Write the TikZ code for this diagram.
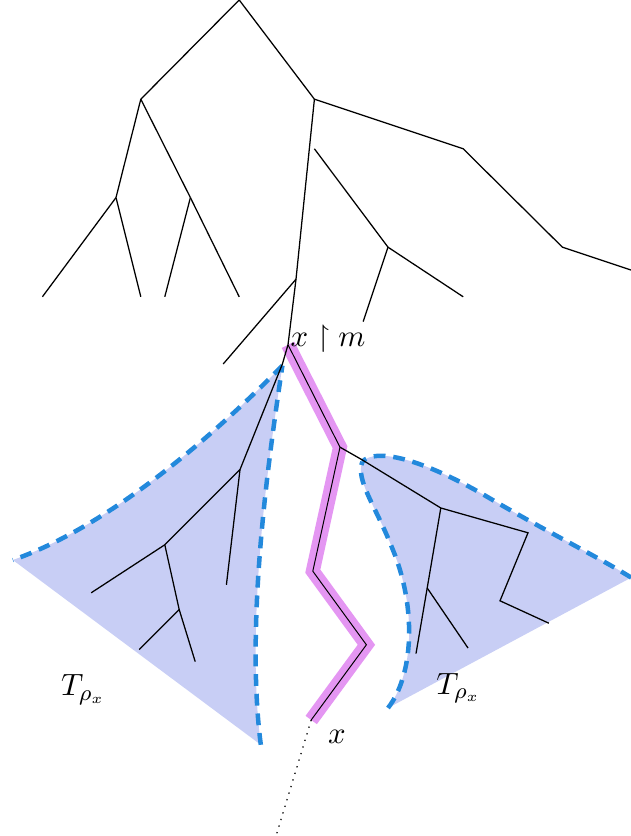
\documentclass[tikz,border=0pt]{standalone}
\usepackage{amsmath,amssymb}
\usepackage{tikz}
\usetikzlibrary{calc}
\definecolor{BlobFill}{RGB}{200,206,245}
\definecolor{RimBlue}{RGB}{35,137,220}
\definecolor{PathPink}{RGB}{228,150,242}
\tikzset{
  branch/.style={draw=black,line width=0.45pt},
  blob/.style={fill=BlobFill,draw=none},
  rim/.style={draw=RimBlue,line width=1.6pt,dash pattern=on 4.2pt off 2.8pt,line cap=butt},
  band/.style={draw=PathPink,line width=5pt,line join=miter},
  tail/.style={draw=black,dotted,line width=0.45pt},
  lbl/.style={font=\fontsize{11}{13}\selectfont},
}

\begin{document}
\begin{tikzpicture}
\useasboundingbox (0,0) rectangle (7.8875,10.45);
% upper tree
\coordinate (r) at (2.99,10.45);
\coordinate (a) at (1.76,9.21);
\coordinate (b) at (3.93,9.21);
\coordinate (aa) at (1.45,7.98);
\coordinate (ab) at (2.38,7.98);
\coordinate (aa1) at (0.53,6.74);
\coordinate (aa2) at (1.76,6.74);
\coordinate (ab1) at (2.06,6.74);
\coordinate (ab2) at (2.99,6.74);
\coordinate (bc) at (5.79,8.59);
\coordinate (bcc) at (7.03,7.36);
\coordinate (bce) at (7.9,7.07);
\coordinate (bd) at (3.70,6.96);
\coordinate (bd1) at (2.79,5.90);
\coordinate (s) at (3.93,8.59);
\coordinate (sa) at (4.85,7.36);
\coordinate (sa1) at (5.79,6.74);
\coordinate (sa2) at (4.54,6.43);
% path to x
\coordinate (p0) at (3.60,6.14);
\coordinate (p1) at (4.25,4.86);
\coordinate (p2) at (3.91,3.31);
\coordinate (p3) at (4.58,2.39);
\coordinate (p4) at (3.89,1.45);
\coordinate (pe) at (3.45,0);
% left subtree
\coordinate (l0) at (3.53,5.90);
\coordinate (l1) at (3.00,4.58);
\coordinate (l2) at (2.06,3.64);
\coordinate (l3) at (1.14,3.04);
\coordinate (l4) at (2.24,2.83);
\coordinate (l5) at (2.44,2.18);
\coordinate (l6) at (1.74,2.33);
\coordinate (l7) at (2.83,3.14);
% right subtree
\coordinate (q1) at (4.53,4.70);
\coordinate (q2) at (5.51,4.10);
\coordinate (q3) at (6.60,3.79);
\coordinate (q4) at (6.25,2.94);
\coordinate (q5) at (6.86,2.66);
\coordinate (q6) at (5.34,3.10);
\coordinate (q7) at (5.20,2.28);
\coordinate (q8) at (5.85,2.35);
% blob corners
\coordinate (la) at (3.53,5.88);
\coordinate (lc) at (0.16,3.45);
\coordinate (lb) at (3.26,1.14);
\coordinate (ra) at (4.53,4.68);
\coordinate (rm) at (6.09,4.24);
\coordinate (rc) at (7.89,3.23);
\coordinate (rb) at (4.85,1.60);
\coordinate (rn) at (4.91,3.58);

\fill[blob] (la) .. controls (2.5,4.83) and (1.25,3.83) .. (lc) -- (lb)
  .. controls (3.06,2.70) and (3.375,4.83) .. (la) -- cycle;
\fill[blob] (ra) .. controls (4.69,4.85) and (5.25,4.73) .. (rm)
  .. controls (6.84,3.80) and (7.5,3.475) .. (rc) -- (rb)
  .. controls (5.17,2.01) and (5.21,2.85) .. (rn)
  .. controls (4.69,4.14) and (4.44,4.45) .. (ra) -- cycle;
\draw[rim] (la) .. controls (2.5,4.83) and (1.25,3.83) .. (lc);
\draw[rim] (lb) .. controls (3.06,2.70) and (3.375,4.83) .. (la);
\draw[rim] (rc) .. controls (7.5,3.475) and (6.84,3.80) .. (rm)
  .. controls (5.25,4.73) and (4.69,4.85) .. (ra);
\draw[rim] (rb) .. controls (5.17,2.01) and (5.21,2.85) .. (rn)
  .. controls (4.69,4.14) and (4.44,4.45) .. (ra);

\draw[band] (p0)--(p1)--(p2)--(p3)--(p4);
\draw[branch,line width=0.35pt] (p0)--(p1)--(p2)--(p3)--(p4);
\draw[tail] (p4)--(pe);

\draw[branch] (r)--(a);
\draw[branch] (r)--(b);
\draw[branch] (a)--(aa);
\draw[branch] (a)--(ab);
\draw[branch] (aa)--(aa1);
\draw[branch] (aa)--(aa2);
\draw[branch] (ab)--(ab1);
\draw[branch] (ab)--(ab2);
\draw[branch] (b)--(bc)--(bcc)--(bce);
\draw[branch] (b)--(bd)--(p0)--(l0);
\draw[branch] (bd)--(bd1);
\draw[branch] (s)--(sa);
\draw[branch] (sa)--(sa1);
\draw[branch] (sa)--(sa2);

\draw[branch] (l0)--(l1)--(l2)--(l3);
\draw[branch] (l2)--(l4)--(l5);
\draw[branch] (l4)--(l6);
\draw[branch] (l1)--(l7);

\draw[branch] (p1)--(q1)--(q2)--(q3)--(q4)--(q5);
\draw[branch] (q2)--(q6)--(q7);
\draw[branch] (q6)--(q8);

\node[lbl] (xm) at (4.10,6.22) {$x\restriction m$};
\node[lbl] (tl) at (1.04,1.83) {$T_{\rho_x}$};
\node[lbl] (tr) at (5.73,1.85) {$T_{\rho_x}$};
\node[lbl] (xl) at (4.21,1.24) {$x$};
\end{tikzpicture}
\end{document}
